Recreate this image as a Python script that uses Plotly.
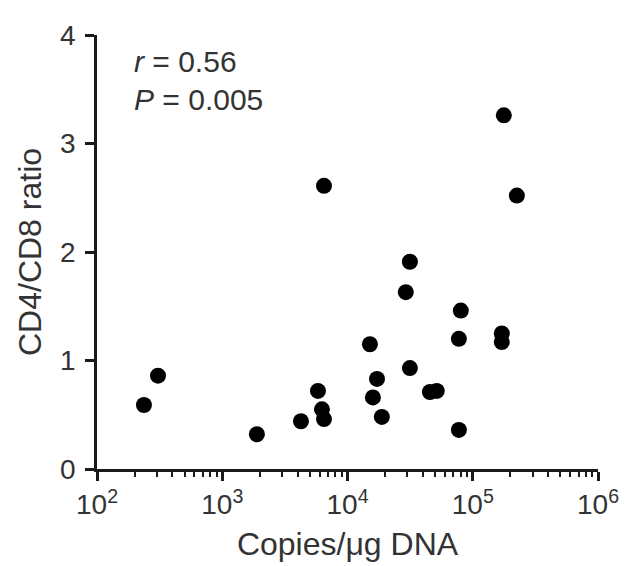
import plotly.graph_objects as go

# Data
copies = [237, 307, 1890, 4250, 5810, 6250, 6490, 6490,
          15100, 17200, 15950, 18800, 29200, 31500, 31500,
          45500, 51600, 80300, 77500, 77500, 170500, 170500,
          177000, 225000]
ratio = [0.59, 0.86, 0.32, 0.44, 0.72, 0.55, 0.46, 2.61,
         1.15, 0.83, 0.66, 0.48, 1.63, 1.91, 0.93,
         0.71, 0.72, 1.46, 1.20, 0.36, 1.25, 1.17,
         3.26, 2.52]

x_tick_vals = [1e2, 1e3, 1e4, 1e5, 1e6]
x_tick_text = ["10<sup>2</sup>", "10<sup>3</sup>", "10<sup>4</sup>",
               "10<sup>5</sup>", "10<sup>6</sup>"]
y_tick_vals = [0, 1, 2, 3, 4]
minor_vals = [k * 10 ** n for n in range(2, 6) for k in range(2, 10)]

FONT = "Liberation Sans, Arial, Helvetica, sans-serif"
TXT = "#333333"
LINE = "#1a1a1a"

fig = go.Figure()
fig.add_trace(go.Scatter(
    x=copies, y=ratio, mode="markers",
    marker=dict(size=16, color="black", line=dict(width=0)),
    cliponaxis=False, showlegend=False,
))

fig.update_layout(
    width=621, height=558,
    margin=dict(l=89, r=31, t=27, b=97),
    paper_bgcolor="white", plot_bgcolor="white",
    font=dict(family=FONT, color=TXT),
    xaxis=dict(
        type="log", range=[2, 6],
        tickmode="array", tickvals=x_tick_vals, ticktext=x_tick_text,
        ticks="outside", ticklen=9, tickwidth=2.5, tickcolor=LINE,
        showline=True, linecolor=LINE, linewidth=2.5,
        showgrid=False, zeroline=False,
        tickfont=dict(size=28, color=TXT),
        minor=dict(tickmode="array", tickvals=minor_vals, ticks="outside",
                   ticklen=5, tickwidth=2, tickcolor=LINE, showgrid=False),
        title=dict(text="Copies/\u03bcg DNA", font=dict(size=32, color=TXT),
                   standoff=14),
        automargin=False,
    ),
    yaxis=dict(
        range=[0, 4],
        tickmode="array", tickvals=y_tick_vals,
        ticks="outside", ticklen=9, tickwidth=2.5, tickcolor=LINE,
        showline=True, linecolor=LINE, linewidth=2.5,
        showgrid=False, zeroline=False,
        tickfont=dict(size=28, color=TXT),
        ticklabelstandoff=4,
        title=dict(text="CD4/CD8 ratio", font=dict(size=32, color=TXT),
                   standoff=9),
        automargin=False,
    ),
)

fig.add_annotation(xref="paper", yref="paper", x=0.07, y=0.938,
                   xanchor="left", yanchor="middle", showarrow=False,
                   text="<i>r</i> = 0.56", font=dict(size=30, color=TXT))
fig.add_annotation(xref="paper", yref="paper", x=0.07, y=0.852,
                   xanchor="left", yanchor="middle", showarrow=False,
                   text="<i>P</i> = 0.005", font=dict(size=30, color=TXT))

fig.write_html("out.html")
